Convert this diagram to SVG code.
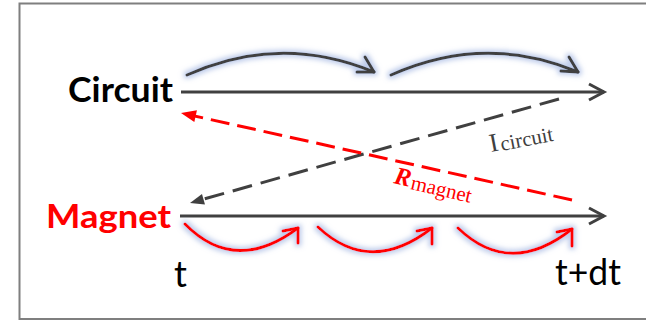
<svg xmlns="http://www.w3.org/2000/svg" width="646" height="321" viewBox="0 0 646 321">
<defs>
<style>
.axis{fill:none;stroke:#404040;stroke-width:3}
.arc-g{fill:none;stroke:#404040;stroke-width:3;stroke-linecap:round;stroke-linejoin:round}
.arc-r{fill:none;stroke:#ff0000;stroke-width:3;stroke-linecap:round;stroke-linejoin:round}
.dash-g{fill:none;stroke:#404040;stroke-width:3;stroke-dasharray:20 9}
.dash-r{fill:none;stroke:#ff0000;stroke-width:3;stroke-dasharray:19 8}
.lbl{font-family:Lato,"Liberation Sans",sans-serif}
.ser{font-family:"Liberation Serif","DejaVu Serif",serif}
</style>
<filter id="glow" x="-20%" y="-40%" width="140%" height="180%">
<feMorphology in="SourceAlpha" operator="dilate" radius="2" result="d"/>
<feGaussianBlur in="d" stdDeviation="2.5" result="b"/>
<feFlood flood-color="#a9bbe4" flood-opacity="0.75"/>
<feComposite in2="b" operator="in" result="g"/>
<feMerge><feMergeNode in="g"/><feMergeNode in="SourceGraphic"/></feMerge>
</filter>
<marker id="ah-g" viewBox="-10 -7 20 14" refX="0" refY="0" markerWidth="20" markerHeight="14" markerUnits="userSpaceOnUse" orient="auto">
<path d="M-6,-5.5 L8,0 L-6,5.5 z" fill="#404040"/>
</marker>
<marker id="ah-r" viewBox="-10 -7 20 14" refX="0" refY="0" markerWidth="20" markerHeight="14" markerUnits="userSpaceOnUse" orient="auto">
<path d="M-7,-6 L8,0 L-7,6 z" fill="#ff0000"/>
</marker>
</defs>
<rect x="19.5" y="3.5" width="640" height="315.5" fill="#ffffff" stroke="#7f7f7f" stroke-width="2"/>

<g id="circuit">
<text class="lbl" x="68" y="102" font-size="34" font-weight="bold" fill="#000000" textLength="105" lengthAdjust="spacingAndGlyphs">Circuit</text>
</g>
<g id="magnet">
<text class="lbl" x="46" y="228" font-size="33" font-weight="bold" fill="#ff0000" textLength="125" lengthAdjust="spacingAndGlyphs">Magnet</text>
</g>
<g id="time-t">
<text class="lbl" x="174" y="287" font-size="36" fill="#000000">t</text>
</g>
<g id="time-tdt">
<text class="lbl" x="555" y="285" font-size="36" fill="#000000" textLength="66" lengthAdjust="spacingAndGlyphs">t+dt</text>
</g>

<g id="connectors">
<path class="axis" d="M181,92 H604"/>
<path class="axis" d="M589,84 L604,92 L589,100"/>
<path class="axis" d="M180,216 H604"/>
<path class="axis" d="M589,208 L604,216 L589,224"/>

<g filter="url(#glow)">
<path class="arc-g" d="M187,75 Q280,33 374,72"/>
<path class="arc-g" d="M365,57 L374,72 L357,72"/>
<path class="arc-g" d="M391,75 Q485,33 578,72"/>
<path class="arc-g" d="M569,57 L578,72 L561,71"/>
</g>
<g filter="url(#glow)">
<path class="arc-r" d="M185,224 Q235,275 298,228"/>
<path class="arc-r" d="M283,231 L298,228 L298,243"/>
<path class="arc-r" d="M318,227 Q370,276 432,228"/>
<path class="arc-r" d="M417,231 L432,228 L432,244"/>
<path class="arc-r" d="M458,228 Q510,278 572,229"/>
<path class="arc-r" d="M557,232 L572,229 L572,246"/>
</g>

<path class="dash-g" d="M559,99 L197.7,200.8" marker-end="url(#ah-g)"/>
<path class="dash-r" d="M572,200 L188.8,114.7" marker-end="url(#ah-r)"/>

<text class="ser" transform="translate(491,152) rotate(-11)" fill="#404040"><tspan font-size="26">I</tspan><tspan font-size="21" dx="2" dy="1">circuit</tspan></text>
<text class="ser" transform="translate(393,183) rotate(13)" fill="#ff0000"><tspan font-size="25" font-weight="bold" font-style="italic">R</tspan><tspan font-size="21" dx="1" dy="2">magnet</tspan></text>
</g>
</svg>
